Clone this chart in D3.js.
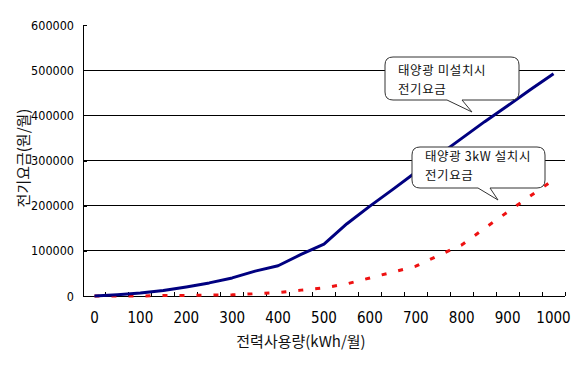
<!DOCTYPE html>
<html>
<head>
<meta charset="utf-8">
<script src="https://cdn.jsdelivr.net/npm/d3@7"></script>
<style>
  body { margin: 0; background: #fff; }
  svg { display: block; }
  .tick-label { font-family: "Liberation Sans Narrow", "Arial Narrow", "DejaVu Sans Condensed", sans-serif; fill: #000; }
  .ko { font-family: "Noto Sans CJK KR", sans-serif; fill: #111; }
</style>
</head>
<body>
<svg id="chart" width="580" height="366"></svg>
<script>
// 전력사용량 (kWh/월), every 50
const usage = [0, 50, 100, 150, 200, 250, 300, 350, 400, 450, 500,
  550, 600, 650, 700, 750, 800, 850, 900, 950, 1000];

// 태양광 미설치시 전기요금 (원/월)
const billNoSolar = [0, 3000, 6500, 12000, 20000, 29000, 40000, 55000, 67000, 92000, 115000,
  160000, 199000, 236000, 274000, 312000, 349000, 386000, 421000, 457000, 492000];

// 태양광 3kW 설치시 전기요금 (원/월)
const billSolar3kW = [0, 0, 0, 1000, 1000, 2000, 2500, 5000, 7500, 13000, 18000,
  27000, 40000, 53000, 66000, 90000, 113000, 150000, 186000, 222000, 257000];

const yTicks = [0, 100000, 200000, 300000, 400000, 500000, 600000];
const xLabels = [0, 100, 200, 300, 400, 500, 600, 700, 800, 900, 1000];

const margin = { top: 25, right: 15, bottom: 70, left: 83 };
const width = 580;
const height = 366;

const svg = d3.select("#chart");

const x = d3.scaleBand()
  .domain(usage)
  .range([margin.left, width - margin.right])
  .padding(0);
const cx = (d) => x(d) + x.bandwidth() / 2;

const y = d3.scaleLinear()
  .domain([0, 600000])
  .range([height - margin.bottom, margin.top]);

const x0 = margin.left, x1 = width - margin.right;
const yBottom = y(0);

// horizontal gridlines
svg.append("g")
  .selectAll("line")
  .data(yTicks.filter((t) => t > 0 && t < 600000))
  .join("line")
  .attr("x1", x0).attr("x2", x1)
  .attr("y1", (d) => y(d)).attr("y2", (d) => y(d))
  .attr("stroke", "#000").attr("stroke-width", 1)
  .attr("shape-rendering", "crispEdges");

// y axis
const yAxis = d3.axisLeft(y).tickValues(yTicks).tickSize(-4).tickPadding(9)
  .tickFormat(d3.format("d"));
svg.append("g")
  .attr("transform", `translate(${x0},0)`)
  .call(yAxis)
  .call((g) => g.select(".domain").attr("d", `M0,${y(600000)}V${yBottom}`).attr("stroke", "#000"))
  .call((g) => g.selectAll(".tick line").attr("stroke", "#000"))
  .call((g) => g.selectAll(".tick text").attr("class", "tick-label").attr("font-size", 12.5).attr("font-family", null))
  .attr("shape-rendering", "crispEdges");

// x axis: line + inside tick marks on category boundaries
const xg = svg.append("g").attr("shape-rendering", "crispEdges");
xg.append("line")
  .attr("x1", x0).attr("x2", x1).attr("y1", yBottom).attr("y2", yBottom)
  .attr("stroke", "#000");
xg.selectAll(".bnd")
  .data(usage.concat(["end"]))
  .join("line")
  .attr("class", "bnd")
  .attr("x1", (d) => d === "end" ? x1 : x(d))
  .attr("x2", (d) => d === "end" ? x1 : x(d))
  .attr("y1", yBottom).attr("y2", yBottom - 4)
  .attr("stroke", "#000");

// x labels
svg.append("g")
  .selectAll("text")
  .data(xLabels)
  .join("text")
  .attr("class", "tick-label")
  .attr("x", (d) => cx(d))
  .attr("y", yBottom + 22)
  .attr("dy", "0.35em")
  .attr("text-anchor", "middle")
  .attr("font-size", 15)
  .text((d) => d);

// lines
const line = d3.line().x((d, i) => cx(usage[i])).y((d) => y(d));

svg.append("path")
  .datum(billSolar3kW)
  .attr("d", line)
  .attr("fill", "none")
  .attr("stroke", "#ee1111")
  .attr("stroke-width", 3)
  .attr("stroke-dasharray", "5,12");

svg.append("path")
  .datum(billNoSolar)
  .attr("d", line)
  .attr("fill", "none")
  .attr("stroke", "#000080")
  .attr("stroke-width", 3)
  .attr("stroke-linejoin", "round");

// axis titles
svg.append("text")
  .attr("class", "ko")
  .attr("transform", `translate(24,${158}) rotate(-90)`)
  .attr("text-anchor", "middle")
  .attr("dy", "0.35em")
  .attr("font-size", 15)
  .text("전기요금(원/월)");

svg.append("text")
  .attr("class", "ko")
  .attr("x", 301)
  .attr("y", 342)
  .attr("text-anchor", "middle")
  .attr("dy", "0.35em")
  .attr("font-size", 15)
  .text("전력사용량(kWh/월)");

// callouts
const callouts = [
  { box: [385, 57, 519, 100], base: [447, 462], tip: [472, 112], lines: ["태양광 미설치시", "전기요금"], tx: 398, ty: [71, 90] },
  { box: [412, 147, 545, 188], base: [478, 490], tip: [498, 200], lines: ["태양광 3kW 설치시", "전기요금"], tx: 425, ty: [157, 176] }
];

function calloutPath(c) {
  const [a, b, e, f] = c.box;
  const r = 8;
  return `M${a + r},${b}H${e - r}Q${e},${b} ${e},${b + r}V${f - r}Q${e},${f} ${e - r},${f}` +
    `H${c.base[1]}L${c.tip[0]},${c.tip[1]}L${c.base[0]},${f}` +
    `H${a + r}Q${a},${f} ${a},${f - r}V${b + r}Q${a},${b} ${a + r},${b}Z`;
}

const cg = svg.append("g").selectAll("g").data(callouts).join("g");
cg.append("path")
  .attr("d", calloutPath)
  .attr("fill", "#fff")
  .attr("stroke", "#333")
  .attr("stroke-width", 1);
cg.each(function (c) {
  const g = d3.select(this);
  c.lines.forEach((t, i) => {
    g.append("text")
      .attr("class", "ko")
      .attr("x", c.tx)
      .attr("y", c.ty[i])
      .attr("dy", "0.35em")
      .attr("font-size", 12.5)
      .attr("letter-spacing", 0.6)
      .text(t);
  });
});
</script>
</body>
</html>
